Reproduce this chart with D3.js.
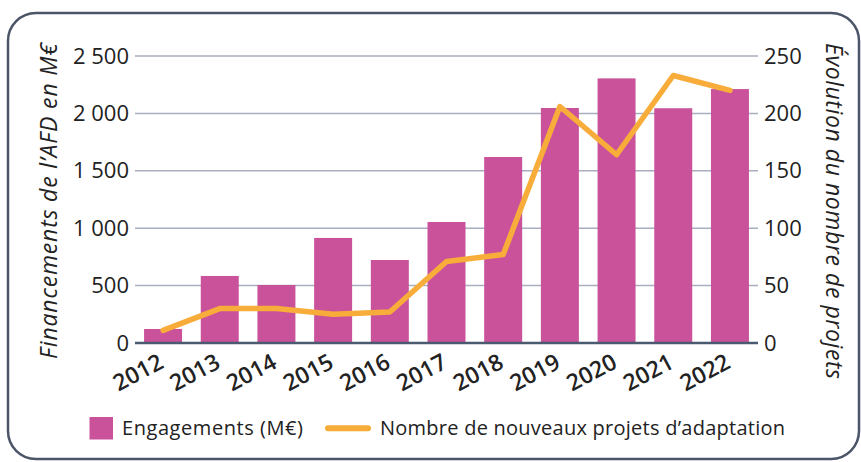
<!DOCTYPE html>
<html><head><meta charset="utf-8">
<script src="https://cdn.jsdelivr.net/npm/d3@7"></script>
<style>body{margin:0;background:#fff}svg{display:block}</style>
</head><body><svg id="c" width="861" height="462"></svg>
<script>
const years = ["2012","2013","2014","2015","2016","2017","2018","2019","2020","2021","2022"];
const engagements = [122, 584, 505, 915, 723, 1054, 1620, 2047, 2305, 2045, 2212];
const projets = [11, 30, 30, 25, 27, 71, 77, 206, 164, 233, 220];
const leftTicks = [0, 500, 1000, 1500, 2000, 2500];
const rightTicks = [0, 50, 100, 150, 200, 250];
const leftTitle = "Financements de l\u2019AFD en M\u20ac";
const rightTitle = "\u00c9volution du nombre de projets";
const legendLabels = ["Engagements (M\u20ac)", "Nombre de nouveaux projets d\u2019adaptation"];

const svg = d3.select("#c");
const font = "'Open Sans', sans-serif";
const barColor = "#c9529b", lineColor = "#f8ac3a", dark = "#222";
const L = 135, R = 758, T = 56, B = 343;

svg.append("rect").attr("x", 8).attr("y", 13).attr("width", 851).attr("height", 446)
  .attr("rx", 28).attr("fill", "none").attr("stroke", "#4b5567").attr("stroke-width", 2.5);

const x = d3.scaleBand().domain(years).range([L, R]).paddingInner(0.33).paddingOuter(0.16);
const yL = d3.scaleLinear().domain([0, 2500]).range([B, T]);
const yR = d3.scaleLinear().domain([0, 250]).range([B, T]);

// gridlines
svg.append("g").selectAll("line").data(leftTicks.filter(d => d > 0)).join("line")
  .attr("x1", L).attr("x2", R).attr("y1", d => yL(d)).attr("y2", d => yL(d))
  .attr("stroke", "#a8aebd").attr("stroke-width", 1.5);

// bars
svg.append("g").selectAll("rect").data(years).join("rect")
  .attr("x", d => x(d)).attr("width", x.bandwidth())
  .attr("y", (d, i) => yL(engagements[i])).attr("height", (d, i) => B - yL(engagements[i]))
  .attr("fill", barColor);

// baseline
svg.append("line").attr("x1", L).attr("x2", R).attr("y1", B).attr("y2", B)
  .attr("stroke", "#4a5a70").attr("stroke-width", 2.5);

// line
const line = d3.line().x((d, i) => x(years[i]) + x.bandwidth() / 2).y(d => yR(d));
svg.append("path").datum(projets).attr("d", line).attr("fill", "none")
  .attr("stroke", lineColor).attr("stroke-width", 5.5)
  .attr("stroke-linejoin", "round").attr("stroke-linecap", "round");

// left axis
const axL = d3.axisLeft(yL).tickValues(leftTicks).tickSize(0).tickPadding(6).tickFormat(d => d3.format(",")(d).replace(/,/g, " "));
const gL = svg.append("g").attr("transform", `translate(${L},0)`).call(axL);
gL.select(".domain").remove();
gL.selectAll("text").attr("font-family", font).attr("font-size", 22).attr("fill", dark);

const axR = d3.axisRight(yR).tickValues(rightTicks).tickSize(0).tickPadding(6);
const gR = svg.append("g").attr("transform", `translate(${R},0)`).call(axR);
gR.select(".domain").remove();
gR.selectAll("text").attr("font-family", font).attr("font-size", 22).attr("fill", dark);

// x axis labels
const axB = d3.axisBottom(x).tickSize(0).tickPadding(0);
const gB = svg.append("g").attr("transform", `translate(0,${B})`).call(axB);
gB.select(".domain").remove();
gB.selectAll("text").attr("font-family", font).attr("font-size", 23).attr("font-weight", 600)
  .attr("fill", dark).attr("text-anchor", "end").attr("dy", 0)
  .attr("transform", "translate(2,24) rotate(-28)");

// axis titles
svg.append("text").attr("transform", "translate(57,201) rotate(-90)").attr("text-anchor", "middle")
  .attr("font-family", font).attr("font-size", 23).attr("font-style", "italic").attr("fill", dark)
  .attr("textLength", 316).attr("lengthAdjust", "spacing").text(leftTitle);
svg.append("text").attr("transform", "translate(826,211) rotate(90)").attr("text-anchor", "middle")
  .attr("font-family", font).attr("font-size", 23).attr("font-style", "italic").attr("fill", dark)
  .attr("textLength", 336).attr("lengthAdjust", "spacing").text(rightTitle);

// legend
const lg = svg.append("g");
lg.append("rect").attr("x", 89.5).attr("y", 417).attr("width", 23.5).attr("height", 22.5).attr("fill", barColor);
lg.append("text").attr("x", 122).attr("y", 434.5).attr("font-family", font).attr("font-size", 20).attr("fill", dark)
  .attr("textLength", 181).attr("lengthAdjust", "spacing").text(legendLabels[0]);
lg.append("line").attr("x1", 328).attr("x2", 368).attr("y1", 428.3).attr("y2", 428.3)
  .attr("stroke", lineColor).attr("stroke-width", 6).attr("stroke-linecap", "round");
lg.append("text").attr("x", 380).attr("y", 434.5).attr("font-family", font).attr("font-size", 20).attr("fill", dark)
  .attr("textLength", 405).attr("lengthAdjust", "spacing").text(legendLabels[1]);
</script></body></html>
